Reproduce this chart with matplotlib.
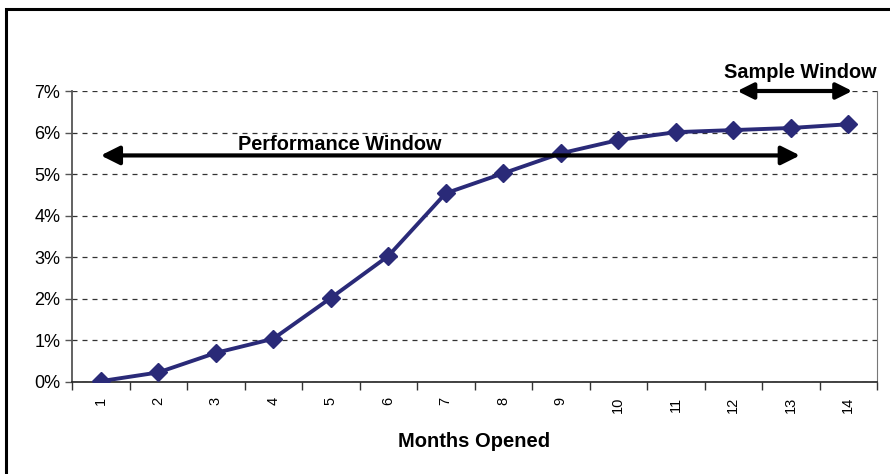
import matplotlib
matplotlib.use('Agg')
import matplotlib.pyplot as plt
from matplotlib.patches import Rectangle
from matplotlib.ticker import FuncFormatter

# --- Datos ---
meses = [1, 2, 3, 4, 5, 6, 7, 8, 9, 10, 11, 12, 13, 14]
tasa = [0.02, 0.23, 0.70, 1.04, 2.02, 3.03, 4.54, 5.02, 5.50, 5.82, 6.01, 6.06, 6.11, 6.20]
etiquetas_meses = [str(m) for m in meses]
ticks_y = [0, 1, 2, 3, 4, 5, 6, 7]

plt.rcParams['font.family'] = ['Liberation Sans', 'DejaVu Sans']

fig = plt.figure(figsize=(8.9, 4.74), dpi=100)
ax = fig.add_axes([72 / 890, 1 - 382 / 474, 805 / 890, 291 / 474])

# marco exterior (solo izquierda y arriba visibles)
fig.patches.append(Rectangle((6 / 890, -0.2), 1.2, 1.2 - 9 / 474,
                             transform=fig.transFigure, fill=False,
                             edgecolor='black', linewidth=2.2))

ax.plot(meses, tasa, color='#2a2a78', linewidth=2.8, marker='D',
        markersize=9, markerfacecolor='#2a2a78', markeredgecolor='#2a2a78',
        zorder=3)

ax.set_xlim(0.5, 14.5)
ax.set_ylim(0, 7)
ax.set_yticks(ticks_y)
ax.yaxis.set_major_formatter(FuncFormatter(lambda v, p: f"{v:.0f}%"))
ax.tick_params(axis='y', labelsize=13, length=5, direction='out', width=1, color='#555555')

# eje de categorías: marcas entre categorías
ax.set_xticks([m - 0.5 for m in meses] + [14.5])
ax.set_xticklabels([])
ax.tick_params(axis='x', length=6, direction='out', width=1, color='#333333')
for m, lab in zip(meses, etiquetas_meses):
    ax.text(m, -0.35, lab, rotation=90, ha='center', va='top', fontsize=10.5)

ax.grid(axis='y', linestyle=(0, (4, 4)), color='#333333', linewidth=0.9)
ax.spines['top'].set_visible(False)
ax.spines['right'].set_color('#777777')
ax.spines['left'].set_color('#555555')
ax.spines['left'].set_linewidth(1.3)
ax.spines['bottom'].set_color('#222222')
ax.spines['bottom'].set_linewidth(1.2)

ax.text(7.5, -1.42, 'Months Opened', ha='center', va='center',
        fontsize=14.5, fontweight='bold')

# flechas de ventanas
ax.annotate('', xy=(1.0, 5.45), xytext=(13.16, 5.45),
            arrowprops=dict(arrowstyle='<|-|>', color='black', lw=3,
                            mutation_scale=28, shrinkA=0, shrinkB=0),
            annotation_clip=False)
ax.text(5.16, 5.72, 'Performance Window', ha='center', va='center',
        fontsize=14.3, fontweight='bold')

ax.annotate('', xy=(12.07, 7.0), xytext=(14.07, 7.0),
            arrowprops=dict(arrowstyle='<|-|>', color='black', lw=3,
                            mutation_scale=24, shrinkA=0, shrinkB=0),
            annotation_clip=False)
ax.text(13.16, 7.45, 'Sample Window', ha='center', va='center',
        fontsize=14.3, fontweight='bold')

fig.savefig('out.png', dpi=100)
plt.close(fig)
